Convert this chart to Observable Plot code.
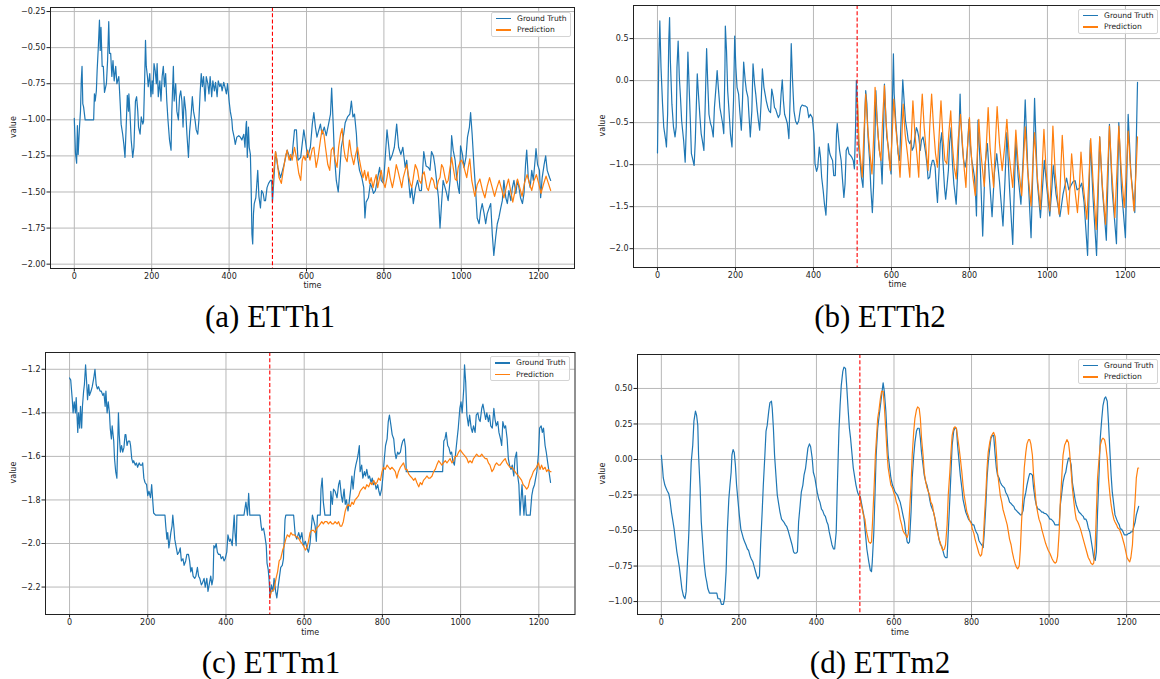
<!DOCTYPE html>
<html>
<head>
<meta charset="utf-8">
<script src="https://cdn.jsdelivr.net/npm/d3@7"></script>
<script src="https://cdn.jsdelivr.net/npm/@observablehq/plot@0.6"></script>
<style>
  body { margin: 0; background: #fff; overflow: hidden; }
  #fig { position: relative; width: 1160px; height: 679px; overflow: hidden; background: #fff; }
  .panel { position: absolute; }
  .caption {
    position: absolute; transform: translate(-50%, -50%); white-space: nowrap;
    font-family: "Liberation Serif", "Times New Roman", serif; font-size: 31px; line-height: 1; color: #000;
  }
  .legend {
    position: absolute; width: 80px; height: 25px; box-sizing: border-box;
    border: 1px solid #d4d4d4; border-radius: 2px; background: rgba(255,255,255,0.85);
    font-family: "DejaVu Sans", sans-serif; font-size: 7.6px; color: #222;
  }
  .legend .swatch { position: absolute; left: 3.5px; width: 15px; height: 1.3px; }
  .legend .label { position: absolute; left: 25px; transform: translateY(-50%); line-height: 1; white-space: nowrap; }
</style>
</head>
<body>
<div id="fig"></div>
<script>
// Shared time axis and the step where the forecast window begins
const timeTicks = [0, 200, 400, 600, 800, 1000, 1200];
const forecastStart = [512];

// ETTh1: ground truth over the look-back + horizon, and the model forecast
const etth1Truth = [[0,-0.99],[3,-1.23],[6,-1.30],[8,-1.04],[10,-1.24],[13,-1.07],[16,-0.94],[18,-0.73],[20,-0.63],[22,-0.89],[24,-0.91],[28,-1.00],[41,-1.00],[50,-1.00],[52,-0.82],[54,-0.87],[57,-0.80],[59,-0.66],[62,-0.50],[65,-0.31],[67,-0.52],[69,-0.36],[72,-0.63],[75,-0.63],[78,-0.81],[83,-0.75],[86,-0.59],[89,-0.32],[91,-0.54],[94,-0.54],[97,-0.70],[100,-0.59],[103,-0.73],[107,-0.63],[110,-0.75],[115,-0.70],[119,-0.91],[121,-1.03],[125,-1.10],[128,-1.17],[131,-1.26],[134,-1.05],[137,-0.83],[140,-0.94],[141,-0.82],[144,-0.96],[147,-1.14],[151,-1.26],[154,-1.19],[158,-0.87],[161,-0.84],[164,-0.94],[166,-1.05],[170,-1.10],[173,-0.98],[177,-1.03],[179,-1.01],[182,-0.70],[184,-0.45],[186,-0.63],[189,-0.70],[191,-0.77],[195,-0.68],[198,-0.84],[201,-0.73],[203,-0.82],[206,-0.61],[209,-0.66],[212,-0.75],[214,-0.61],[217,-0.84],[221,-0.73],[224,-0.87],[227,-0.70],[230,-0.63],[233,-0.77],[236,-0.68],[239,-0.87],[242,-1.00],[246,-1.14],[250,-1.21],[252,-0.94],[256,-0.63],[258,-0.87],[262,-0.75],[265,-0.94],[269,-1.00],[272,-0.84],[275,-0.80],[278,-0.87],[281,-1.05],[284,-0.84],[288,-0.94],[291,-1.10],[295,-1.26],[298,-1.08],[302,-0.96],[305,-0.84],[308,-0.94],[312,-1.00],[315,-1.07],[319,-1.10],[322,-1.00],[325,-0.82],[328,-0.68],[331,-0.77],[334,-0.70],[338,-0.87],[341,-0.70],[345,-0.75],[348,-0.82],[351,-0.70],[355,-0.84],[358,-0.73],[362,-0.80],[365,-0.74],[369,-0.84],[372,-0.73],[376,-0.77],[379,-0.75],[382,-0.80],[386,-0.74],[389,-0.77],[393,-0.82],[396,-0.75],[400,-0.87],[403,-0.94],[407,-1.00],[409,-1.07],[413,-1.12],[416,-1.17],[420,-1.12],[425,-1.11],[429,-1.12],[433,-1.14],[438,-1.10],[441,-1.19],[444,-1.03],[445,-1.01],[447,-1.26],[450,-1.05],[452,-1.19],[455,-1.24],[457,-1.47],[459,-1.79],[461,-1.86],[463,-1.65],[465,-1.58],[469,-1.54],[471,-1.47],[474,-1.35],[477,-1.53],[481,-1.61],[484,-1.49],[488,-1.51],[491,-1.56],[494,-1.56],[498,-1.47],[502,-1.44],[507,-1.42],[510,-1.42],[512,-1.57],[514,-1.49],[520,-1.22],[526,-1.33],[533,-1.40],[542,-1.31],[550,-1.21],[559,-1.28],[563,-1.24],[569,-1.07],[574,-1.07],[578,-1.28],[585,-1.26],[593,-1.07],[597,-1.14],[603,-1.26],[610,-1.19],[615,-1.03],[619,-0.95],[623,-1.05],[627,-1.12],[636,-1.03],[640,-1.10],[646,-1.05],[651,-1.11],[657,-1.03],[662,-0.96],[665,-0.78],[669,-1.03],[672,-1.24],[677,-1.42],[682,-1.50],[686,-1.35],[690,-1.19],[696,-1.10],[700,-1.02],[706,-0.98],[712,-0.96],[716,-0.87],[720,-0.98],[724,-0.96],[729,-1.10],[732,-1.26],[737,-1.35],[743,-1.40],[748,-1.47],[751,-1.68],[754,-1.57],[760,-1.54],[765,-1.44],[769,-1.47],[773,-1.51],[778,-1.49],[784,-1.40],[789,-1.33],[793,-1.42],[799,-1.44],[803,-1.28],[808,-1.07],[812,-1.17],[816,-1.28],[822,-1.24],[827,-1.19],[833,-1.03],[838,-1.19],[844,-1.24],[849,-1.19],[855,-1.33],[859,-1.28],[863,-1.40],[868,-1.54],[872,-1.47],[876,-1.58],[882,-1.47],[887,-1.42],[892,-1.49],[897,-1.49],[903,-1.22],[909,-1.32],[915,-1.33],[919,-1.35],[923,-1.22],[928,-1.25],[932,-1.32],[936,-1.42],[941,-1.54],[945,-1.75],[949,-1.58],[953,-1.42],[958,-1.47],[962,-1.51],[966,-1.56],[971,-1.42],[975,-1.11],[979,-1.21],[984,-1.28],[988,-1.40],[992,-1.47],[995,-1.51],[998,-1.18],[1003,-1.24],[1007,-1.33],[1012,-1.26],[1016,-1.12],[1021,-1.05],[1024,-0.95],[1028,-1.10],[1033,-1.33],[1037,-1.49],[1041,-1.68],[1046,-1.72],[1050,-1.63],[1054,-1.58],[1059,-1.65],[1063,-1.72],[1067,-1.65],[1072,-1.61],[1076,-1.58],[1080,-1.79],[1084,-1.94],[1089,-1.81],[1093,-1.72],[1097,-1.68],[1102,-1.61],[1106,-1.56],[1110,-1.42],[1115,-1.54],[1119,-1.58],[1123,-1.49],[1128,-1.56],[1132,-1.47],[1136,-1.42],[1141,-1.51],[1145,-1.42],[1149,-1.47],[1153,-1.54],[1158,-1.58],[1162,-1.51],[1166,-1.31],[1169,-1.21],[1173,-1.40],[1178,-1.47],[1182,-1.35],[1186,-1.42],[1191,-1.27],[1193,-1.20],[1197,-1.31],[1202,-1.35],[1205,-1.54],[1209,-1.40],[1214,-1.31],[1218,-1.25],[1222,-1.35],[1228,-1.40],[1231,-1.42]];
const etth1Pred = [[512,-1.49],[514,-1.39],[520,-1.22],[524,-1.28],[529,-1.40],[535,-1.44],[540,-1.35],[546,-1.25],[550,-1.21],[555,-1.28],[559,-1.24],[563,-1.28],[569,-1.19],[574,-1.26],[580,-1.37],[585,-1.42],[589,-1.28],[593,-1.25],[597,-1.28],[603,-1.21],[609,-1.28],[615,-1.20],[619,-1.19],[625,-1.33],[630,-1.26],[636,-1.14],[640,-1.07],[645,-1.10],[649,-1.19],[655,-1.31],[660,-1.35],[664,-1.21],[669,-1.19],[674,-1.28],[679,-1.33],[683,-1.19],[688,-1.10],[692,-1.06],[696,-1.19],[700,-1.26],[705,-1.29],[711,-1.14],[716,-1.24],[722,-1.31],[727,-1.24],[732,-1.19],[737,-1.28],[742,-1.35],[746,-1.40],[750,-1.35],[754,-1.42],[759,-1.36],[763,-1.44],[767,-1.40],[772,-1.47],[776,-1.42],[780,-1.38],[784,-1.47],[789,-1.40],[793,-1.35],[797,-1.42],[803,-1.47],[808,-1.40],[812,-1.33],[816,-1.40],[822,-1.47],[827,-1.40],[832,-1.31],[836,-1.35],[842,-1.42],[846,-1.47],[850,-1.40],[855,-1.35],[859,-1.31],[863,-1.38],[868,-1.44],[872,-1.47],[876,-1.40],[881,-1.31],[887,-1.35],[891,-1.42],[896,-1.44],[900,-1.38],[904,-1.36],[911,-1.47],[915,-1.49],[919,-1.44],[923,-1.40],[928,-1.42],[932,-1.47],[936,-1.48],[941,-1.42],[945,-1.40],[949,-1.31],[953,-1.33],[958,-1.40],[962,-1.44],[966,-1.42],[971,-1.33],[975,-1.26],[979,-1.33],[984,-1.41],[988,-1.42],[992,-1.33],[997,-1.29],[1001,-1.28],[1005,-1.31],[1009,-1.35],[1014,-1.40],[1018,-1.33],[1022,-1.27],[1027,-1.42],[1035,-1.53],[1041,-1.45],[1048,-1.41],[1055,-1.49],[1061,-1.54],[1067,-1.46],[1073,-1.40],[1080,-1.47],[1086,-1.53],[1092,-1.47],[1098,-1.42],[1104,-1.48],[1110,-1.54],[1116,-1.47],[1122,-1.41],[1128,-1.50],[1133,-1.57],[1139,-1.49],[1145,-1.41],[1151,-1.47],[1157,-1.53],[1163,-1.44],[1170,-1.38],[1176,-1.44],[1182,-1.49],[1188,-1.42],[1194,-1.38],[1200,-1.44],[1206,-1.51],[1212,-1.45],[1219,-1.39],[1225,-1.44],[1231,-1.49]];
const etth1Ticks = [-2.0, -1.75, -1.5, -1.25, -1.0, -0.75, -0.5, -0.25];

// ETTh2
const etth2Truth = [[0,-0.86],[3,0.16],[6,0.71],[9,0.16],[13,-0.28],[16,-0.55],[21,-0.71],[23,-0.79],[26,-0.40],[29,0.48],[31,0.75],[33,0.24],[37,-0.28],[41,-0.55],[45,-0.67],[48,-0.55],[50,0.16],[53,0.47],[56,0.04],[59,-0.20],[62,-0.48],[67,-0.71],[71,-0.97],[74,-0.55],[78,0.34],[80,0.08],[84,-0.44],[87,-0.87],[91,-0.95],[94,-1.01],[97,-0.71],[102,0.08],[105,-0.16],[109,-0.44],[112,-0.63],[115,-0.71],[119,-0.83],[122,-0.36],[126,0.38],[129,-0.04],[132,-0.40],[136,-0.51],[139,-0.55],[143,-0.67],[146,-0.32],[150,-0.08],[153,0.12],[156,-0.08],[160,-0.32],[163,-0.40],[167,-0.51],[170,-0.63],[173,0.16],[174,0.65],[177,0.36],[180,-0.12],[184,-0.40],[187,-0.63],[191,-0.79],[195,-0.24],[198,0.53],[201,0.16],[204,-0.08],[208,-0.16],[211,-0.36],[215,-0.59],[218,-0.24],[221,0.22],[225,0.00],[228,-0.12],[232,-0.20],[235,-0.44],[238,-0.67],[242,-0.36],[245,0.20],[249,-0.04],[252,-0.16],[256,-0.36],[259,-0.48],[262,-0.59],[266,-0.24],[269,0.14],[273,-0.08],[276,-0.16],[279,-0.24],[283,-0.32],[286,-0.36],[290,-0.38],[293,-0.10],[297,-0.20],[300,-0.32],[303,-0.34],[307,-0.40],[310,-0.44],[314,-0.40],[317,-0.16],[320,0.01],[323,-0.24],[326,-0.40],[330,-0.46],[333,-0.51],[337,-0.69],[340,-0.24],[343,0.44],[346,0.04],[350,-0.36],[354,-0.48],[358,-0.52],[362,-0.48],[367,-0.32],[371,-0.29],[375,-0.30],[379,-0.30],[384,-0.32],[388,-0.44],[392,-0.40],[397,-0.44],[401,-0.63],[404,-0.99],[408,-1.08],[411,-1.03],[415,-0.79],[418,-0.91],[421,-1.15],[425,-1.31],[428,-1.46],[432,-1.60],[435,-1.27],[438,-0.75],[442,-0.87],[445,-0.91],[449,-0.95],[452,-1.13],[456,-1.13],[459,-0.63],[461,-0.51],[464,-0.67],[467,-0.83],[471,-0.95],[474,-1.15],[478,-1.39],[481,-1.23],[484,-0.83],[488,-0.79],[491,-0.87],[495,-0.89],[498,-0.91],[502,-0.95],[505,-1.05],[508,-0.55],[510,0.00],[513,-0.32],[516,-0.79],[520,-0.99],[523,-1.15],[527,-1.27],[529,-0.95],[532,-0.36],[534,-0.12],[537,-0.28],[540,-0.67],[544,-0.95],[547,-1.27],[551,-1.57],[554,-1.27],[558,-0.60],[560,-0.12],[563,-0.44],[566,-0.67],[569,-0.83],[573,-0.95],[576,-1.23],[580,-0.56],[582,-0.04],[585,-0.36],[588,-0.67],[592,-0.79],[595,-0.95],[599,-1.11],[602,-0.36],[605,0.32],[607,-0.16],[611,-0.48],[614,-0.67],[617,-0.87],[621,-0.95],[624,-0.56],[627,-0.24],[629,0.01],[633,-0.28],[636,-0.48],[640,-0.60],[643,-0.71],[647,-0.75],[650,-0.71],[653,-0.83],[657,-0.79],[660,-0.67],[664,-0.56],[667,-0.60],[670,-0.67],[674,-0.83],[677,-0.71],[681,-0.67],[684,-0.75],[688,-0.87],[691,-0.99],[694,-1.17],[698,-1.15],[701,-1.03],[705,-0.95],[708,-0.95],[712,-1.03],[715,-1.27],[718,-1.45],[722,-1.07],[725,-0.75],[729,-0.62],[732,-0.95],[736,-1.27],[739,-1.41],[742,-1.27],[746,-1.07],[749,-0.75],[753,-0.56],[756,-0.95],[760,-1.23],[763,-1.35],[766,-1.47],[770,-1.07],[773,-0.67],[776,-0.16],[778,-0.48],[782,-0.79],[785,-0.95],[789,-1.03],[792,-0.95],[795,-0.79],[799,-0.46],[802,-0.75],[806,-0.95],[809,-1.03],[813,-1.15],[816,-1.39],[818,-1.61],[822,-0.47],[828,-1.05],[834,-1.85],[840,-1.00],[846,-0.75],[851,-1.15],[858,-1.62],[864,-1.10],[870,-0.87],[877,-1.20],[886,-1.73],[891,-1.20],[896,-0.62],[903,-1.30],[911,-1.95],[915,-1.30],[919,-0.71],[925,-1.15],[932,-1.47],[938,-0.90],[943,-0.23],[950,-1.10],[958,-1.87],[963,-1.00],[967,-0.21],[974,-1.20],[982,-1.63],[987,-1.30],[992,-0.95],[999,-1.30],[1006,-1.61],[1011,-1.30],[1015,-1.01],[1022,-1.35],[1032,-1.62],[1040,-1.35],[1049,-1.16],[1055,-1.30],[1060,-1.25],[1066,-1.20],[1071,-1.19],[1076,-1.30],[1082,-1.28],[1088,-1.22],[1094,-1.45],[1103,-2.08],[1110,-0.71],[1117,-1.40],[1126,-2.08],[1134,-0.67],[1141,-1.30],[1151,-1.90],[1159,-0.52],[1166,-1.30],[1177,-1.94],[1183,-0.50],[1190,-1.30],[1200,-1.87],[1207,-0.40],[1214,-1.10],[1224,-1.57],[1231,-0.02]];
const etth2Pred = [[511,-0.20],[513,-0.24],[517,-0.75],[521,-0.95],[525,-1.15],[530,-0.56],[534,-0.16],[539,-0.56],[545,-0.87],[550,-1.11],[554,-0.71],[558,-0.08],[563,-0.48],[569,-0.83],[573,-0.95],[578,-0.40],[582,-0.06],[586,-0.48],[592,-0.83],[597,-1.07],[602,-0.63],[606,-0.22],[611,-0.56],[617,-0.83],[622,-1.15],[626,-0.75],[630,-0.28],[635,-0.63],[641,-0.87],[647,-1.15],[651,-0.67],[655,-0.24],[660,-0.63],[665,-0.87],[670,-1.15],[674,-0.56],[679,-0.16],[684,-0.56],[689,-0.83],[694,-1.07],[698,-0.56],[703,-0.16],[708,-0.56],[713,-0.87],[718,-1.03],[722,-0.67],[727,-0.24],[732,-0.67],[737,-0.95],[742,-0.99],[747,-0.63],[752,-0.36],[756,-0.75],[761,-1.03],[766,-1.17],[771,-0.71],[777,-0.40],[782,-0.75],[787,-1.07],[791,-1.27],[795,-0.79],[800,-0.44],[804,-0.83],[809,-1.15],[815,-1.37],[820,-0.90],[824,-0.46],[829,-0.85],[838,-1.26],[843,-0.80],[848,-0.32],[853,-0.80],[862,-1.27],[866,-0.80],[871,-0.31],[877,-0.75],[884,-1.07],[890,-0.80],[896,-0.46],[902,-0.90],[911,-1.27],[915,-0.95],[919,-0.59],[925,-1.00],[934,-1.37],[938,-1.00],[943,-0.55],[949,-1.05],[958,-1.49],[962,-1.05],[967,-0.62],[973,-1.10],[982,-1.53],[986,-1.10],[991,-0.58],[997,-1.10],[1006,-1.55],[1010,-1.10],[1014,-0.54],[1020,-1.10],[1030,-1.59],[1034,-1.10],[1038,-0.65],[1044,-1.15],[1054,-1.59],[1058,-1.25],[1062,-0.87],[1068,-1.20],[1077,-1.57],[1082,-1.25],[1086,-0.85],[1092,-1.25],[1101,-1.65],[1106,-1.20],[1111,-0.69],[1117,-1.20],[1125,-1.77],[1130,-1.20],[1134,-0.67],[1140,-1.20],[1149,-1.71],[1154,-1.10],[1159,-0.54],[1165,-1.10],[1173,-1.63],[1178,-1.10],[1183,-0.54],[1189,-1.05],[1197,-1.51],[1202,-1.10],[1207,-0.60],[1213,-1.05],[1222,-1.55],[1227,-1.10],[1231,-0.67]];
const etth2Ticks = [-2.0, -1.5, -1.0, -0.5, 0.0, 0.5];

// ETTm1
const ettm1Truth = [[0,-1.24],[3,-1.25],[7,-1.34],[9,-1.40],[12,-1.35],[15,-1.40],[17,-1.33],[21,-1.49],[23,-1.40],[26,-1.47],[28,-1.37],[31,-1.47],[33,-1.37],[36,-1.30],[38,-1.27],[41,-1.18],[44,-1.27],[46,-1.34],[49,-1.27],[51,-1.32],[55,-1.30],[58,-1.28],[62,-1.24],[65,-1.20],[68,-1.27],[71,-1.29],[74,-1.28],[78,-1.30],[81,-1.30],[85,-1.32],[88,-1.31],[91,-1.37],[93,-1.30],[96,-1.40],[99,-1.35],[102,-1.40],[104,-1.47],[107,-1.52],[109,-1.46],[113,-1.53],[115,-1.61],[118,-1.67],[121,-1.70],[123,-1.55],[125,-1.40],[127,-1.50],[130,-1.58],[133,-1.55],[136,-1.58],[139,-1.56],[142,-1.50],[144,-1.50],[147,-1.55],[150,-1.53],[154,-1.53],[156,-1.55],[159,-1.61],[162,-1.63],[164,-1.62],[168,-1.64],[171,-1.63],[174,-1.65],[178,-1.63],[181,-1.64],[185,-1.64],[187,-1.63],[190,-1.70],[193,-1.72],[197,-1.73],[200,-1.78],[203,-1.76],[207,-1.79],[210,-1.73],[213,-1.81],[215,-1.86],[220,-1.87],[228,-1.87],[237,-1.87],[244,-1.87],[246,-1.92],[249,-1.98],[251,-1.95],[254,-2.02],[257,-1.98],[259,-1.95],[262,-1.92],[264,-1.87],[267,-1.93],[269,-1.98],[273,-2.02],[276,-2.05],[280,-2.04],[283,-2.02],[286,-2.08],[290,-2.07],[293,-2.10],[297,-2.08],[300,-2.05],[304,-2.05],[307,-2.08],[310,-2.13],[313,-2.11],[316,-2.15],[320,-2.16],[323,-2.15],[327,-2.11],[330,-2.15],[333,-2.16],[337,-2.19],[340,-2.18],[344,-2.16],[347,-2.20],[351,-2.16],[354,-2.22],[357,-2.19],[361,-2.15],[364,-2.19],[367,-2.16],[369,-2.01],[372,-2.02],[375,-2.00],[378,-2.04],[381,-2.05],[385,-2.05],[388,-2.07],[392,-2.06],[395,-2.08],[398,-2.07],[402,-2.04],[405,-1.96],[409,-1.99],[412,-1.98],[416,-2.01],[418,-1.95],[421,-1.87],[423,-1.95],[426,-2.01],[428,-1.87],[438,-1.87],[446,-1.87],[451,-1.81],[455,-1.87],[458,-1.77],[461,-1.87],[472,-1.87],[481,-1.87],[487,-1.87],[490,-1.92],[492,-1.94],[496,-1.93],[499,-1.96],[503,-2.01],[505,-2.09],[508,-2.12],[510,-2.16],[513,-2.25],[516,-2.19],[520,-2.22],[523,-2.16],[527,-2.22],[530,-2.25],[534,-2.19],[537,-2.15],[540,-2.11],[544,-2.10],[547,-2.07],[551,-1.89],[553,-1.87],[573,-1.87],[577,-1.96],[581,-1.98],[586,-1.95],[590,-1.98],[594,-1.95],[598,-2.01],[603,-1.99],[607,-2.02],[611,-2.04],[615,-2.00],[621,-1.87],[628,-1.92],[631,-1.99],[634,-1.87],[641,-1.87],[643,-1.75],[646,-1.70],[649,-1.81],[653,-1.87],[667,-1.87],[668,-1.76],[672,-1.82],[675,-1.75],[679,-1.76],[684,-1.79],[688,-1.73],[691,-1.71],[695,-1.78],[698,-1.81],[702,-1.75],[705,-1.82],[708,-1.80],[712,-1.85],[715,-1.81],[719,-1.75],[722,-1.69],[725,-1.75],[729,-1.67],[732,-1.64],[736,-1.61],[738,-1.59],[741,-1.55],[743,-1.67],[747,-1.64],[750,-1.70],[754,-1.67],[757,-1.69],[760,-1.66],[764,-1.70],[767,-1.69],[771,-1.72],[774,-1.70],[777,-1.73],[781,-1.72],[784,-1.75],[788,-1.73],[791,-1.76],[794,-1.78],[798,-1.75],[801,-1.70],[805,-1.61],[808,-1.55],[812,-1.52],[815,-1.44],[818,-1.41],[822,-1.46],[825,-1.50],[829,-1.52],[832,-1.58],[835,-1.61],[839,-1.58],[842,-1.59],[846,-1.58],[849,-1.55],[852,-1.53],[856,-1.52],[859,-1.56],[861,-1.67],[954,-1.67],[957,-1.53],[960,-1.52],[963,-1.49],[967,-1.55],[970,-1.56],[974,-1.59],[977,-1.58],[980,-1.62],[984,-1.64],[987,-1.59],[991,-1.52],[994,-1.47],[998,-1.38],[1001,-1.35],[1004,-1.40],[1008,-1.29],[1010,-1.18],[1013,-1.26],[1016,-1.41],[1020,-1.46],[1023,-1.41],[1027,-1.47],[1030,-1.49],[1033,-1.46],[1037,-1.49],[1040,-1.41],[1044,-1.40],[1047,-1.43],[1050,-1.44],[1054,-1.38],[1057,-1.36],[1061,-1.40],[1064,-1.43],[1067,-1.40],[1071,-1.44],[1074,-1.41],[1077,-1.46],[1081,-1.47],[1085,-1.38],[1088,-1.43],[1091,-1.46],[1095,-1.44],[1098,-1.49],[1102,-1.52],[1105,-1.55],[1108,-1.44],[1112,-1.47],[1115,-1.46],[1119,-1.52],[1122,-1.61],[1125,-1.64],[1129,-1.66],[1132,-1.64],[1136,-1.69],[1139,-1.61],[1143,-1.58],[1146,-1.69],[1149,-1.73],[1152,-1.87],[1154,-1.81],[1157,-1.73],[1160,-1.82],[1162,-1.87],[1165,-1.78],[1168,-1.87],[1178,-1.87],[1182,-1.78],[1185,-1.75],[1189,-1.73],[1192,-1.70],[1195,-1.67],[1199,-1.59],[1202,-1.47],[1206,-1.46],[1209,-1.49],[1212,-1.47],[1216,-1.55],[1219,-1.58],[1222,-1.62],[1226,-1.67],[1230,-1.72]];
const ettm1Pred = [[512,-2.25],[516,-2.22],[523,-2.21],[528,-2.16],[532,-2.13],[536,-2.08],[540,-2.07],[545,-2.03],[549,-2.01],[553,-1.98],[557,-1.96],[562,-1.97],[566,-1.95],[570,-1.96],[575,-1.96],[579,-1.97],[583,-1.97],[587,-1.98],[590,-1.99],[594,-2.00],[598,-2.01],[603,-2.03],[607,-2.02],[611,-1.99],[615,-1.95],[619,-1.94],[624,-1.94],[628,-1.95],[632,-1.93],[637,-1.92],[641,-1.91],[645,-1.90],[649,-1.91],[653,-1.90],[658,-1.90],[662,-1.91],[667,-1.90],[671,-1.91],[675,-1.91],[679,-1.90],[684,-1.91],[688,-1.90],[692,-1.92],[696,-1.92],[700,-1.90],[705,-1.85],[709,-1.83],[713,-1.82],[718,-1.83],[722,-1.81],[726,-1.82],[730,-1.80],[735,-1.79],[739,-1.78],[743,-1.76],[747,-1.75],[752,-1.74],[756,-1.75],[760,-1.73],[765,-1.74],[769,-1.72],[773,-1.73],[778,-1.71],[782,-1.73],[786,-1.72],[790,-1.70],[795,-1.71],[799,-1.67],[803,-1.65],[807,-1.66],[812,-1.64],[816,-1.65],[820,-1.66],[824,-1.65],[829,-1.66],[833,-1.67],[837,-1.70],[841,-1.67],[846,-1.65],[850,-1.64],[854,-1.63],[859,-1.66],[863,-1.66],[867,-1.68],[871,-1.69],[876,-1.70],[880,-1.71],[884,-1.70],[888,-1.72],[893,-1.74],[897,-1.72],[901,-1.73],[905,-1.71],[910,-1.70],[914,-1.69],[918,-1.70],[922,-1.70],[927,-1.69],[931,-1.67],[935,-1.66],[939,-1.64],[944,-1.62],[948,-1.63],[952,-1.64],[956,-1.63],[961,-1.62],[965,-1.63],[969,-1.62],[973,-1.61],[978,-1.63],[982,-1.62],[986,-1.60],[990,-1.60],[995,-1.58],[999,-1.57],[1003,-1.58],[1007,-1.59],[1012,-1.60],[1016,-1.61],[1020,-1.63],[1024,-1.62],[1029,-1.63],[1033,-1.61],[1037,-1.60],[1041,-1.59],[1046,-1.60],[1050,-1.60],[1054,-1.59],[1058,-1.60],[1063,-1.61],[1067,-1.61],[1071,-1.63],[1075,-1.64],[1080,-1.67],[1084,-1.66],[1088,-1.64],[1092,-1.63],[1097,-1.64],[1101,-1.64],[1105,-1.63],[1109,-1.62],[1114,-1.61],[1118,-1.63],[1122,-1.64],[1126,-1.65],[1131,-1.65],[1135,-1.66],[1139,-1.67],[1143,-1.68],[1148,-1.69],[1152,-1.70],[1156,-1.71],[1160,-1.73],[1165,-1.74],[1169,-1.75],[1173,-1.74],[1177,-1.71],[1182,-1.69],[1186,-1.67],[1190,-1.66],[1194,-1.65],[1199,-1.63],[1203,-1.66],[1207,-1.64],[1211,-1.66],[1216,-1.65],[1220,-1.67],[1224,-1.66],[1229,-1.67],[1231,-1.67]];
const ettm1Ticks = [-2.2, -2.0, -1.8, -1.6, -1.4, -1.2];

// ETTm2
const ettm2Truth = [[0,0.03],[3,-0.06],[5,-0.13],[9,-0.18],[12,-0.20],[15,-0.22],[19,-0.24],[22,-0.28],[26,-0.37],[29,-0.42],[33,-0.49],[36,-0.56],[40,-0.65],[43,-0.70],[46,-0.75],[50,-0.84],[53,-0.91],[57,-0.96],[61,-0.98],[64,-0.93],[67,-0.75],[71,-0.51],[74,-0.25],[77,-0.02],[81,0.10],[84,0.27],[88,0.34],[91,0.31],[94,0.24],[96,0.03],[100,-0.20],[103,-0.44],[107,-0.60],[110,-0.72],[114,-0.82],[117,-0.86],[120,-0.91],[124,-0.94],[130,-0.94],[138,-0.94],[143,-0.94],[146,-0.98],[151,-0.98],[155,-1.02],[160,-1.02],[163,-0.98],[167,-0.79],[170,-0.51],[174,-0.28],[177,-0.18],[180,-0.09],[182,0.03],[185,0.07],[188,0.05],[191,-0.04],[194,-0.18],[198,-0.30],[201,-0.39],[205,-0.49],[208,-0.52],[212,-0.56],[215,-0.58],[218,-0.60],[222,-0.63],[225,-0.64],[229,-0.68],[232,-0.70],[236,-0.72],[239,-0.75],[243,-0.79],[246,-0.82],[249,-0.84],[253,-0.82],[256,-0.60],[260,-0.37],[263,-0.18],[267,0.03],[270,0.20],[273,0.24],[277,0.34],[280,0.40],[284,0.41],[286,0.36],[289,0.22],[292,0.03],[296,-0.13],[299,-0.25],[303,-0.32],[306,-0.37],[310,-0.42],[313,-0.43],[316,-0.44],[320,-0.46],[323,-0.47],[327,-0.50],[330,-0.53],[334,-0.57],[337,-0.60],[341,-0.65],[344,-0.66],[347,-0.66],[351,-0.65],[354,-0.44],[358,-0.32],[361,-0.23],[365,-0.18],[368,-0.11],[372,-0.06],[375,0.01],[378,0.08],[382,0.11],[385,0.09],[389,0.01],[392,-0.09],[396,-0.13],[399,-0.18],[402,-0.23],[406,-0.28],[409,-0.30],[413,-0.35],[416,-0.36],[420,-0.39],[423,-0.40],[427,-0.44],[430,-0.46],[433,-0.51],[437,-0.56],[440,-0.60],[444,-0.63],[447,-0.63],[451,-0.51],[454,-0.18],[458,0.20],[461,0.38],[464,0.52],[468,0.62],[471,0.65],[475,0.64],[478,0.52],[482,0.34],[485,0.22],[488,0.15],[492,0.03],[495,-0.06],[499,-0.13],[502,-0.18],[506,-0.23],[509,-0.25],[513,-0.26],[517,-0.32],[522,-0.39],[526,-0.51],[530,-0.63],[535,-0.72],[539,-0.78],[542,-0.79],[544,-0.72],[548,-0.51],[551,-0.25],[554,0.03],[558,0.22],[561,0.29],[565,0.38],[568,0.45],[572,0.54],[575,0.48],[579,0.34],[582,0.17],[585,0.03],[589,-0.06],[592,-0.13],[596,-0.18],[599,-0.20],[603,-0.23],[606,-0.24],[609,-0.25],[613,-0.28],[616,-0.30],[620,-0.35],[623,-0.39],[627,-0.44],[630,-0.51],[634,-0.58],[637,-0.59],[640,-0.58],[644,-0.37],[647,-0.13],[651,0.03],[654,0.12],[658,0.20],[661,0.22],[665,0.22],[668,0.15],[671,0.05],[675,-0.04],[678,-0.11],[682,-0.16],[685,-0.18],[689,-0.23],[692,-0.28],[695,-0.32],[699,-0.35],[702,-0.37],[706,-0.42],[709,-0.46],[713,-0.51],[716,-0.56],[720,-0.60],[723,-0.61],[726,-0.64],[730,-0.68],[733,-0.69],[737,-0.69],[740,-0.51],[744,-0.28],[747,-0.09],[750,0.10],[754,0.20],[757,0.22],[761,0.22],[764,0.10],[768,-0.02],[771,-0.11],[775,-0.20],[778,-0.28],[781,-0.32],[785,-0.37],[788,-0.39],[792,-0.42],[795,-0.43],[799,-0.44],[802,-0.46],[806,-0.46],[809,-0.49],[812,-0.51],[816,-0.53],[819,-0.57],[823,-0.59],[826,-0.60],[830,-0.62],[833,-0.51],[837,-0.32],[840,-0.13],[843,-0.02],[847,0.08],[850,0.15],[854,0.17],[857,0.17],[861,0.03],[864,-0.06],[867,-0.11],[871,-0.13],[874,-0.16],[878,-0.18],[881,-0.19],[885,-0.20],[888,-0.23],[892,-0.25],[895,-0.27],[898,-0.30],[902,-0.31],[905,-0.32],[909,-0.33],[912,-0.35],[916,-0.36],[919,-0.37],[923,-0.38],[926,-0.39],[929,-0.39],[933,-0.36],[936,-0.28],[940,-0.23],[943,-0.18],[947,-0.13],[950,-0.10],[953,-0.10],[957,-0.11],[960,-0.20],[964,-0.28],[967,-0.32],[971,-0.35],[974,-0.35],[978,-0.36],[981,-0.37],[984,-0.37],[988,-0.38],[991,-0.38],[995,-0.39],[998,-0.40],[1002,-0.42],[1005,-0.42],[1009,-0.43],[1012,-0.44],[1015,-0.46],[1019,-0.46],[1022,-0.46],[1026,-0.46],[1029,-0.32],[1033,-0.23],[1036,-0.16],[1040,-0.11],[1043,-0.09],[1046,-0.04],[1050,0.01],[1053,0.01],[1057,-0.04],[1060,-0.16],[1064,-0.23],[1067,-0.28],[1070,-0.32],[1074,-0.35],[1077,-0.37],[1081,-0.38],[1084,-0.39],[1088,-0.40],[1091,-0.42],[1095,-0.42],[1098,-0.44],[1101,-0.48],[1105,-0.51],[1108,-0.56],[1112,-0.63],[1115,-0.69],[1119,-0.71],[1122,-0.65],[1125,-0.37],[1129,-0.09],[1132,0.15],[1136,0.29],[1139,0.38],[1143,0.43],[1146,0.44],[1150,0.41],[1153,0.27],[1157,0.05],[1160,-0.11],[1163,-0.23],[1167,-0.32],[1170,-0.39],[1174,-0.42],[1177,-0.44],[1181,-0.46],[1184,-0.49],[1187,-0.49],[1191,-0.51],[1194,-0.53],[1198,-0.53],[1201,-0.53],[1205,-0.52],[1208,-0.52],[1211,-0.51],[1215,-0.51],[1218,-0.48],[1222,-0.44],[1225,-0.39],[1229,-0.35],[1231,-0.33]];
const ettm2Pred = [[511,-0.25],[514,-0.30],[518,-0.35],[521,-0.39],[525,-0.42],[528,-0.49],[531,-0.53],[535,-0.58],[539,-0.59],[542,-0.58],[545,-0.42],[549,-0.18],[552,0.03],[556,0.20],[558,0.29],[561,0.34],[565,0.43],[568,0.48],[572,0.48],[575,0.38],[579,0.20],[582,0.05],[585,-0.06],[589,-0.13],[592,-0.18],[596,-0.20],[599,-0.23],[603,-0.26],[606,-0.30],[609,-0.32],[613,-0.37],[616,-0.42],[620,-0.46],[623,-0.50],[627,-0.52],[630,-0.53],[634,-0.55],[637,-0.52],[640,-0.37],[644,-0.18],[647,0.03],[651,0.20],[654,0.29],[658,0.35],[661,0.37],[665,0.36],[668,0.29],[671,0.15],[675,0.03],[678,-0.09],[682,-0.16],[685,-0.20],[689,-0.23],[692,-0.25],[695,-0.30],[699,-0.32],[702,-0.37],[706,-0.42],[709,-0.48],[713,-0.52],[716,-0.56],[720,-0.59],[723,-0.62],[726,-0.64],[730,-0.63],[733,-0.60],[737,-0.46],[740,-0.25],[744,-0.09],[747,0.05],[750,0.17],[754,0.22],[757,0.23],[761,0.22],[764,0.16],[768,0.08],[771,0.01],[775,-0.09],[778,-0.18],[781,-0.25],[785,-0.32],[788,-0.37],[792,-0.40],[795,-0.43],[799,-0.45],[802,-0.49],[806,-0.52],[809,-0.56],[812,-0.59],[816,-0.63],[819,-0.66],[823,-0.68],[826,-0.67],[830,-0.58],[833,-0.42],[837,-0.23],[840,-0.06],[843,0.05],[847,0.12],[850,0.16],[854,0.18],[857,0.19],[861,0.16],[864,0.05],[867,-0.09],[871,-0.18],[874,-0.25],[878,-0.30],[881,-0.35],[885,-0.39],[888,-0.42],[892,-0.46],[895,-0.51],[898,-0.56],[902,-0.60],[905,-0.65],[909,-0.70],[912,-0.73],[916,-0.76],[919,-0.77],[923,-0.75],[926,-0.63],[929,-0.44],[933,-0.23],[936,-0.06],[940,0.05],[943,0.11],[947,0.14],[950,0.14],[953,0.11],[957,0.03],[960,-0.11],[964,-0.23],[967,-0.32],[971,-0.38],[974,-0.42],[978,-0.45],[981,-0.49],[984,-0.52],[988,-0.56],[991,-0.59],[995,-0.62],[998,-0.64],[1002,-0.66],[1008,-0.70],[1012,-0.72],[1016,-0.73],[1019,-0.72],[1022,-0.68],[1026,-0.51],[1029,-0.30],[1033,-0.11],[1036,0.03],[1040,0.10],[1043,0.12],[1046,0.14],[1050,0.12],[1053,0.05],[1057,-0.09],[1060,-0.20],[1064,-0.30],[1067,-0.37],[1070,-0.42],[1074,-0.44],[1077,-0.46],[1081,-0.49],[1084,-0.52],[1088,-0.56],[1091,-0.59],[1095,-0.63],[1098,-0.66],[1101,-0.69],[1105,-0.71],[1108,-0.73],[1112,-0.74],[1115,-0.73],[1119,-0.60],[1122,-0.37],[1125,-0.13],[1129,0.01],[1132,0.10],[1136,0.14],[1139,0.15],[1143,0.14],[1146,0.10],[1150,0.01],[1153,-0.13],[1157,-0.25],[1160,-0.32],[1163,-0.37],[1167,-0.42],[1170,-0.44],[1174,-0.46],[1177,-0.48],[1181,-0.49],[1184,-0.51],[1187,-0.53],[1191,-0.57],[1194,-0.60],[1198,-0.65],[1201,-0.69],[1205,-0.71],[1208,-0.72],[1211,-0.69],[1215,-0.60],[1218,-0.44],[1222,-0.28],[1225,-0.13],[1229,-0.06],[1231,-0.06]];
const ettm2Ticks = [-1.0, -0.75, -0.5, -0.25, 0.0, 0.25, 0.5];

const seriesNames = ["Ground Truth", "Prediction"];
const seriesColors = ["#1f77b4", "#ff7f0e"];

// Layout of the four sub-figures (pixel placement of each SVG and its frame)
const panels = [
  { truth: etth1Truth, pred: etth1Pred, ticks: etth1Ticks, fmt: ".2f", yDomain: [-2.03, -0.222],
    left: 0, top: 0, width: 580, margin: [7, 6, 32, 50], valueDx: -36.7, timeDy: 19,
    caption: "(a) ETTh1", cap: [270, 316], legend: [491, 11.5] },
  { truth: etth2Truth, pred: etth2Pred, ticks: etth2Ticks, fmt: ".1f", yDomain: [-2.224, 0.894],
    left: 580, top: 0, width: 585, margin: [5, 4, 33, 53], valueDx: -31.3, timeDy: 19.7,
    caption: "(b) ETTh2", cap: [880, 316], legend: [1078, 8.5] },
  { truth: ettm1Truth, pred: ettm1Pred, ticks: ettm1Ticks, fmt: ".1f", yDomain: [-2.326, -1.123],
    left: 0, top: 345, width: 580, margin: [7, 5.5, 31, 45], valueDx: -31.7, timeDy: 20.3,
    caption: "(c) ETTm1", cap: [271, 662], legend: [490, 356] },
  { truth: ettm2Truth, pred: ettm2Pred, ticks: ettm2Ticks, fmt: ".2f", yDomain: [-1.091, 0.739],
    left: 580, top: 345, width: 585, margin: [9, 3, 31, 57], valueDx: -35.3, timeDy: 20.3,
    caption: "(d) ETTm2", cap: [880, 662], legend: [1078, 358.5] }
];

const fig = document.getElementById("fig");
const gridStyle = { stroke: "#b8b8b8", strokeOpacity: 1, strokeWidth: 1 };

for (const p of panels) {
  const [mt, mr, mb, ml] = p.margin;
  const chart = Plot.plot({
    width: p.width, height: 300,
    marginTop: mt, marginRight: mr, marginBottom: mb, marginLeft: ml,
    style: { fontFamily: "'DejaVu Sans', sans-serif", fontSize: "8px", color: "#222", background: "transparent", overflow: "visible" },
    x: { domain: [-61.5, 1292.5] },
    y: { domain: p.yDomain },
    marks: [
      Plot.gridX(timeTicks, gridStyle),
      Plot.gridY(p.ticks, gridStyle),
      Plot.line(p.truth, { x: d => d[0], y: d => d[1], stroke: seriesColors[0], strokeWidth: 1.2 }),
      Plot.line(p.pred, { x: d => d[0], y: d => d[1], stroke: seriesColors[1], strokeWidth: 1.2 }),
      Plot.ruleX(forecastStart, { stroke: "#ff0000", strokeWidth: 1.1, strokeDasharray: "4,2.2" }),
      Plot.frame({ stroke: "#222", strokeWidth: 1 }),
      Plot.axisX(timeTicks, { tickFormat: "d", tickSize: 3.5, tickPadding: 1.5, label: null }),
      Plot.axisY(p.ticks, { tickFormat: p.fmt, tickSize: 3.5, tickPadding: 1.5, label: null }),
      Plot.text(["time"], { frameAnchor: "bottom", dy: p.timeDy, text: d => d, fill: "#222" }),
      Plot.text(["value"], { frameAnchor: "left", dx: p.valueDx, rotate: -90, text: d => d, fill: "#222" })
    ]
  });
  chart.classList.add("panel");
  chart.style.left = p.left + "px";
  chart.style.top = p.top + "px";
  fig.appendChild(chart);

  // Legend box in the upper-right corner of the axes
  const lg = document.createElement("div");
  lg.className = "legend";
  lg.style.left = p.legend[0] + "px";
  lg.style.top = p.legend[1] + "px";
  seriesNames.forEach((name, i) => {
    const y = 6 + i * 11.6;
    const sw = document.createElement("div");
    sw.className = "swatch";
    sw.style.top = (y - 0.65) + "px";
    sw.style.background = seriesColors[i];
    const tx = document.createElement("div");
    tx.className = "label";
    tx.style.top = y + "px";
    tx.textContent = name;
    lg.appendChild(sw);
    lg.appendChild(tx);
  });
  fig.appendChild(lg);

  const cap = document.createElement("div");
  cap.className = "caption";
  cap.style.left = p.cap[0] + "px";
  cap.style.top = p.cap[1] + "px";
  cap.textContent = p.caption;
  fig.appendChild(cap);
}
</script>
</body>
</html>
